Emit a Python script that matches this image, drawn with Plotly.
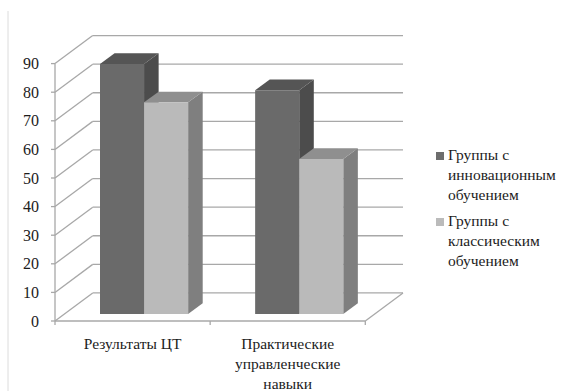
import plotly.graph_objects as go

categories = ["Результаты ЦТ", "Практические<br>управленческие<br>навыки"]
series_names = ["Группы с<br>инновационным<br>обучением", "Группы с<br>классическим<br>обучением"]
innovative = [87.4, 78.2]
classic = [74.0, 54.2]
y_ticks = [0, 10, 20, 30, 40, 50, 60, 70, 80, 90]

FONT = dict(family="Liberation Serif", size=15.5, color="#1c1c1c")
TICK_FONT = dict(family="Liberation Serif", size=16, color="#1c1c1c")
GRID = "#a8a8a8"

# Oblique projection, in axis units: one category is 155 px, ten y units are 28.6 px.
WALL_DX, WALL_DY = 0.243, 9.8      # depth of the floor and walls
BAR_DX, BAR_DY = 0.094, 3.75       # depth of a column
FRONT_DX, FRONT_DY = 0.074, 2.45   # gap between the front edge and the columns
BAR_W = 0.284
X_MIN, X_MAX = -0.5, 1.5

fig = go.Figure()


def line_shape(x0, y0, x1, y1):
    return dict(type="line", xref="x", yref="y", x0=x0, y0=y0, x1=x1, y1=y1,
                layer="below", line=dict(color=GRID, width=1.3))


shapes = []
for v in y_ticks:
    shapes.append(line_shape(X_MIN, v, X_MIN + WALL_DX, v + WALL_DY))
    shapes.append(line_shape(X_MIN + WALL_DX, v + WALL_DY, X_MAX + WALL_DX, v + WALL_DY))
    shapes.append(line_shape(X_MIN - 0.026, v, X_MIN, v))
shapes.append(line_shape(X_MIN, 0, X_MIN, y_ticks[-1]))
shapes.append(line_shape(X_MIN, 0, X_MAX, 0))
shapes.append(line_shape(X_MAX, 0, X_MAX + WALL_DX, WALL_DY))
for x in (-0.5, 0.5, 1.5):
    shapes.append(line_shape(x, 0, x, -1.4))

PLOT_W, PLOT_H = 355, 293

# Thin frame edge along the left side of the chart object.
shapes.append(dict(type="line", xref="paper", yref="paper",
                   x0=-42 / PLOT_W, x1=-42 / PLOT_W, y0=-65 / PLOT_H, y1=1 + 22 / PLOT_H,
                   line=dict(color="#dcdcdc", width=1)))


def add_poly(xs, ys, color):
    fig.add_trace(go.Scatter(x=xs, y=ys, mode="lines", fill="toself", fillcolor=color,
                             line=dict(width=0, color=color), showlegend=False,
                             hoverinfo="skip", xaxis="x", yaxis="y"))


# Side and top faces of each column, back to front.
palette = [("#4c4c4c", "#555555", "#6a6a6a"), ("#7f7f7f", "#8f8f8f", "#bababa")]
for s, values in enumerate([innovative, classic]):
    side, top, _ = palette[s]
    for c, v in enumerate(values):
        left = c + FRONT_DX - BAR_W + s * BAR_W
        right = left + BAR_W
        height = v + FRONT_DY
        add_poly([right, right + BAR_DX, right + BAR_DX, right, right],
                 [FRONT_DY, FRONT_DY + BAR_DY, height + BAR_DY, height, FRONT_DY], side)
        add_poly([left, left + BAR_DX, right + BAR_DX, right, left],
                 [height, height + BAR_DY, height + BAR_DY, height, height], top)

# Front faces sit on an overlaid pair of axes so they paint above the side faces.
for s, (name, values) in enumerate(zip(series_names, [innovative, classic])):
    fig.add_trace(go.Bar(
        x=[c + FRONT_DX - BAR_W / 2 + s * BAR_W for c in range(len(categories))],
        y=values, base=FRONT_DY, width=BAR_W, name=name,
        marker=dict(color=palette[s][2], line=dict(width=0)), showlegend=False,
        xaxis="x2", yaxis="y2"))

# Key: a small swatch beside the first line of each wrapped label.
annotations = []
for name, color, top_px in zip(series_names, ["#6d6d6d", "#bbbbbb"], [146, 212]):
    annotations.append(dict(xref="paper", yref="paper", x=(448 - 50) / PLOT_W,
                            y=1 - (top_px - 33) / PLOT_H, xanchor="left", yanchor="top",
                            text=name, showarrow=False, align="left", font=FONT,
                            borderpad=0, borderwidth=0))
    shapes.append(dict(type="rect", xref="paper", yref="paper",
                       x0=(436 - 50) / PLOT_W, x1=(444 - 50) / PLOT_W,
                       y0=1 - (top_px + 6 - 33) / PLOT_H, y1=1 - (top_px + 14 - 33) / PLOT_H,
                       fillcolor=color, line=dict(width=0)))

x_range = [X_MIN - 5 / 155, X_MAX + WALL_DX + 2 / 155]
y_range = [-5 / 2.86, 100.7]

fig.update_layout(
    width=569, height=391, autosize=False, showlegend=False,
    margin=dict(l=50, r=164, t=33, b=65, pad=0),
    paper_bgcolor="white", plot_bgcolor="white",
    barmode="overlay", font=FONT, shapes=shapes, annotations=annotations,
    xaxis=dict(range=x_range, tickmode="array", tickvals=list(range(len(categories))),
               ticktext=categories, showgrid=False, zeroline=False, ticks="", automargin=False,
               ticklabelstandoff=6, tickfont=FONT, fixedrange=True),
    yaxis=dict(range=y_range, tickmode="array", tickvals=y_ticks, showgrid=False, automargin=False,
               zeroline=False, ticks="", ticklabelstandoff=10, tickfont=TICK_FONT, fixedrange=True),
    xaxis2=dict(range=x_range, overlaying="x", visible=False, fixedrange=True),
    yaxis2=dict(range=y_range, overlaying="y", visible=False, fixedrange=True),
)

fig.write_html("out.html", config=dict(displayModeBar=False))
